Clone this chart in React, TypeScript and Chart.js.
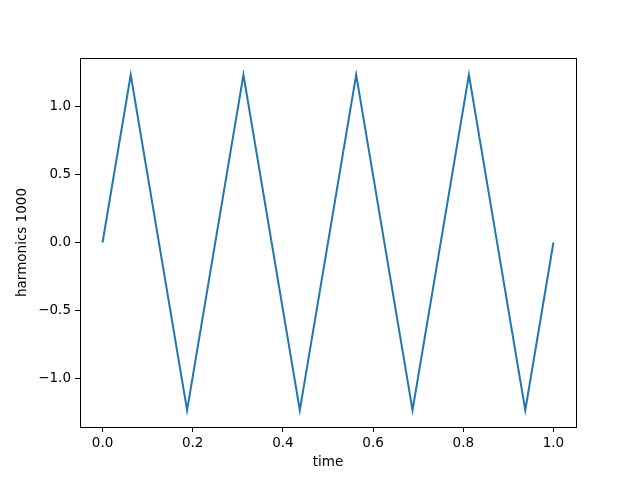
import React, { useEffect, useRef } from "react";
import { Chart, registerables } from "chart.js";

Chart.register(...registerables);

const timePoints = [0, 0.0625, 0.1875, 0.3125, 0.4375, 0.5625, 0.6875, 0.8125, 0.9375, 1.0];
const harmonicValues = [0, 1.2337, -1.2337, 1.2337, -1.2337, 1.2337, -1.2337, 1.2337, -1.2337, 0];
const xTicks = [0, 0.2, 0.4, 0.6, 0.8, 1.0];
const yTicks = [-1.0, -0.5, 0.0, 0.5, 1.0];

const fmt = (v: number) => {
  const s = Math.abs(v).toFixed(1);
  return v < -1e-9 ? "\u2212" + s : s;
};

const boxPlugin = {
  id: "box",
  afterDraw(chart: any) {
    const { ctx, chartArea } = chart;
    ctx.save();
    ctx.strokeStyle = "#000";
    ctx.lineWidth = 1;
    ctx.strokeRect(
      Math.round(chartArea.left) + 0.5,
      Math.round(chartArea.top) + 0.5,
      Math.round(chartArea.right - chartArea.left),
      Math.round(chartArea.bottom - chartArea.top)
    );
    ctx.restore();
  },
};

export default function App() {
  const ref = useRef<HTMLCanvasElement>(null);
  useEffect(() => {
    document.body.style.margin = "0";
    const font = { family: "DejaVu Sans", size: 13.5 };
    const chart = new Chart(ref.current!, {
      type: "line",
      data: {
        datasets: [
          {
            data: timePoints.map((t, i) => ({ x: t, y: harmonicValues[i] })),
            borderColor: "#1f77b4",
            borderWidth: 2,
            pointRadius: 0,
            tension: 0,
            fill: false,
          },
        ],
      },
      options: {
        responsive: false,
        animation: false,
        layout: { padding: { top: 58, right: 64, left: 0, bottom: 0 } },
        plugins: { legend: { display: false }, tooltip: { enabled: false } },
        scales: {
          x: {
            type: "linear",
            min: -0.05,
            max: 1.05,
            afterBuildTicks: (s: any) => {
              s.ticks = xTicks.map((v) => ({ value: v }));
            },
            afterFit: (s: any) => {
              s.height = 53;
            },
            grid: { drawOnChartArea: false, drawTicks: true, tickLength: 5, color: "#000" },
            border: { display: true, color: "#000" },
            ticks: { color: "#000", font, padding: 3, maxRotation: 0, callback: (v: any) => fmt(Number(v)) },
            title: { display: true, text: "time", color: "#000", font, padding: { top: 9, bottom: 9 } },
          },
          y: {
            type: "linear",
            min: -1.357,
            max: 1.357,
            afterBuildTicks: (s: any) => {
              s.ticks = yTicks.map((v) => ({ value: v }));
            },
            afterFit: (s: any) => {
              s.width = 80;
            },
            grid: { drawOnChartArea: false, drawTicks: true, tickLength: 5, color: "#000" },
            border: { display: true, color: "#000" },
            ticks: { color: "#000", font, padding: 4, callback: (v: any) => fmt(Number(v)) },
            title: { display: true, text: "harmonics 1000", color: "#000", font, padding: { top: 14, bottom: 0 } },
          },
        },
      },
      plugins: [boxPlugin],
    });
    return () => chart.destroy();
  }, []);
  return (
    <div style={{ position: "absolute", left: 0, top: 0, width: 640, height: 480, background: "#fff" }}>
      <canvas ref={ref} width={640} height={480} />
    </div>
  );
}
